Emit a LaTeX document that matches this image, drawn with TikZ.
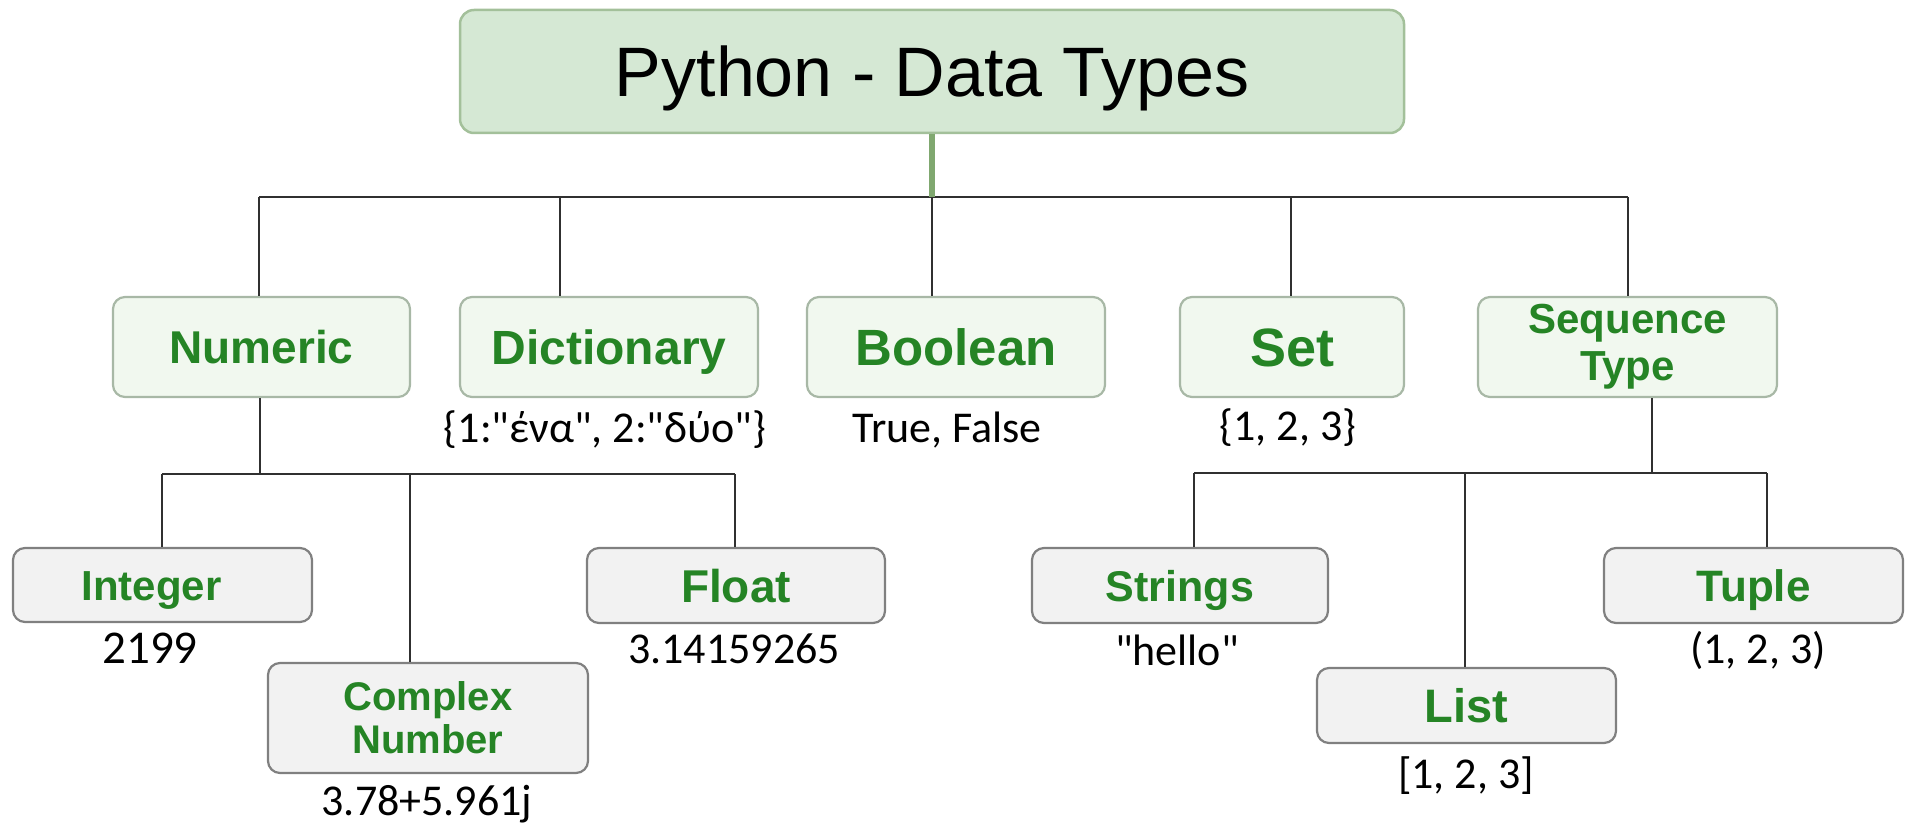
\documentclass[tikz,border=0pt]{standalone}
\usepackage{fontspec}
\newfontfamily\arialf{Liberation Sans}
\newfontfamily\calib{Carlito}
\newcommand{\fs}[1]{\fontsize{#1}{#1}\selectfont}
\definecolor{topfill}{HTML}{D5E8D4}
\definecolor{topdraw}{HTML}{A3C09A}
\definecolor{lonefill}{HTML}{F1F8EF}
\definecolor{lonedraw}{HTML}{A8B8A6}
\definecolor{ltwofill}{HTML}{F2F2F2}
\definecolor{ltwodraw}{HTML}{808080}
\definecolor{tgreen}{RGB}{37,132,37}
\definecolor{stemc}{RGB}{128,168,112}
\definecolor{connc}{HTML}{303030}
\tikzset{
  x=1pt, y=-1pt,
  topbox/.style={draw=topdraw, fill=topfill, line width=2.5pt, rounded corners=14pt,
    minimum width=944pt, minimum height=123pt, inner sep=0pt,
    font=\arialf\fs{70}, text=black, text height=50pt, text depth=0pt},
  lone/.style={draw=lonedraw, fill=lonefill, line width=2.2pt, rounded corners=12pt,
    minimum height=100pt, inner sep=0pt, text=tgreen, align=center},
  ltwo/.style={draw=ltwodraw, fill=ltwofill, line width=2.2pt, rounded corners=12pt,
    inner sep=0pt, text=tgreen, align=center},
  lab/.style={font=\calib\fs{44}, anchor=base, inner sep=0pt, text=black},
  conn/.style={draw=connc, line width=2.5pt},
  stem/.style={draw=stemc, line width=6pt}
}
\begin{document}
\begin{tikzpicture}
\useasboundingbox (0,0) rectangle (1908,824);
% root
\node[topbox] (top) at (932,71.5) {Python - Data Types};
% level 1
\node[lone, minimum width=297pt, font=\arialf\bfseries\fs{46}, text height=33pt, text depth=0pt] (numeric) at (261.5,347) {Numeric};
\node[lone, minimum width=298pt, font=\arialf\bfseries\fs{48}, text height=34pt, text depth=0pt] (dict) at (609,347) {Dictionary};
\node[lone, minimum width=298pt, font=\arialf\bfseries\fs{51}, text height=36pt, text depth=0pt] (bool) at (956,347) {Boolean};
\node[lone, minimum width=224pt, font=\arialf\bfseries\fs{54}, text height=38pt, text depth=0pt] (set) at (1292,347) {Set};
\node[lone, minimum width=299pt, font=\arialf\bfseries\fs{42}] (seq) at (1627.5,347) {Sequence\\[5pt]Type};
% level 2
\node[ltwo, minimum width=299pt, minimum height=74pt, font=\arialf\bfseries\fs{42}, text height=30pt, text depth=0pt] (integer) at (162.5,585) {Integer\hspace*{22pt}};
\node[ltwo, minimum width=320pt, minimum height=110pt, font=\arialf\bfseries\fs{40}] (complex) at (428,718) {Complex\\[3pt]Number};
\node[ltwo, minimum width=298pt, minimum height=75pt, font=\arialf\bfseries\fs{46}, text height=33pt, text depth=0pt] (float) at (736,585.5) {Float};
\node[ltwo, minimum width=296pt, minimum height=75pt, font=\arialf\bfseries\fs{43}, text height=31pt, text depth=0pt] (strings) at (1180,585.5) {Strings};
\node[ltwo, minimum width=299pt, minimum height=75pt, font=\arialf\bfseries\fs{47}, text height=34pt, text depth=0pt] (list) at (1466.5,705.5) {List};
\node[ltwo, minimum width=299pt, minimum height=75pt, font=\arialf\bfseries\fs{44}, text height=31pt, text depth=0pt] (tuple) at (1753.5,585.5) {Tuple};
% value labels
\node[lab] (vdict) at (605,442) {\{1:"ένα", 2:"δύο"\}};
\node[lab] (vbool) at (947,442) {True, False};
\node[lab] (vset) at (1288,440) {\{1, 2, 3\}};
\node[lab, font=\calib\fs{47}] (vint) at (150,663) {2199};
\node[lab] (vfloat) at (734,663) {3.14159265};
\node[lab] (vcomplex) at (427,815) {3.78+5.961j};
\node[lab] (vstr) at (1177,665) {"hello"};
\node[lab] (vlist) at (1466,788) {[1, 2, 3]};
\node[lab] (vtuple) at (1758,663) {(1, 2, 3)};
% junctions
\coordinate (j1) at (259,197);
\coordinate (j2) at (560,197);
\coordinate (j3) at (932,197);
\coordinate (j4) at (1291,197);
\coordinate (j5) at (1628,197);
\coordinate (nb) at (260,474);
\coordinate (nL) at (162,474);
\coordinate (nM) at (410,474);
\coordinate (nR) at (735,474);
\coordinate (sb) at (1652,473);
\coordinate (sL) at (1194,473);
\coordinate (sM) at (1465,473);
\coordinate (sR) at (1767,473);
% connectors
\draw[conn] (j1) -- (j5);
\draw[conn] (j1) -- (j1 |- numeric.north);
\draw[conn] (j2) -- (j2 |- dict.north);
\draw[conn] (j3) -- (j3 |- bool.north);
\draw[conn] (j4) -- (j4 |- set.north);
\draw[conn] (j5) -- (j5 |- seq.north);
\draw[stem] (top.south) -- (j3);
\draw[conn] (numeric.south -| nb) -- (nb);
\draw[conn] (nL) -- (nR);
\draw[conn] (nL) -- (nL |- integer.north);
\draw[conn] (nM) -- (nM |- complex.north);
\draw[conn] (nR) -- (nR |- float.north);
\draw[conn] (seq.south -| sb) -- (sb);
\draw[conn] (sL) -- (sR);
\draw[conn] (sL) -- (sL |- strings.north);
\draw[conn] (sM) -- (sM |- list.north);
\draw[conn] (sR) -- (sR |- tuple.north);
\end{tikzpicture}
\end{document}
